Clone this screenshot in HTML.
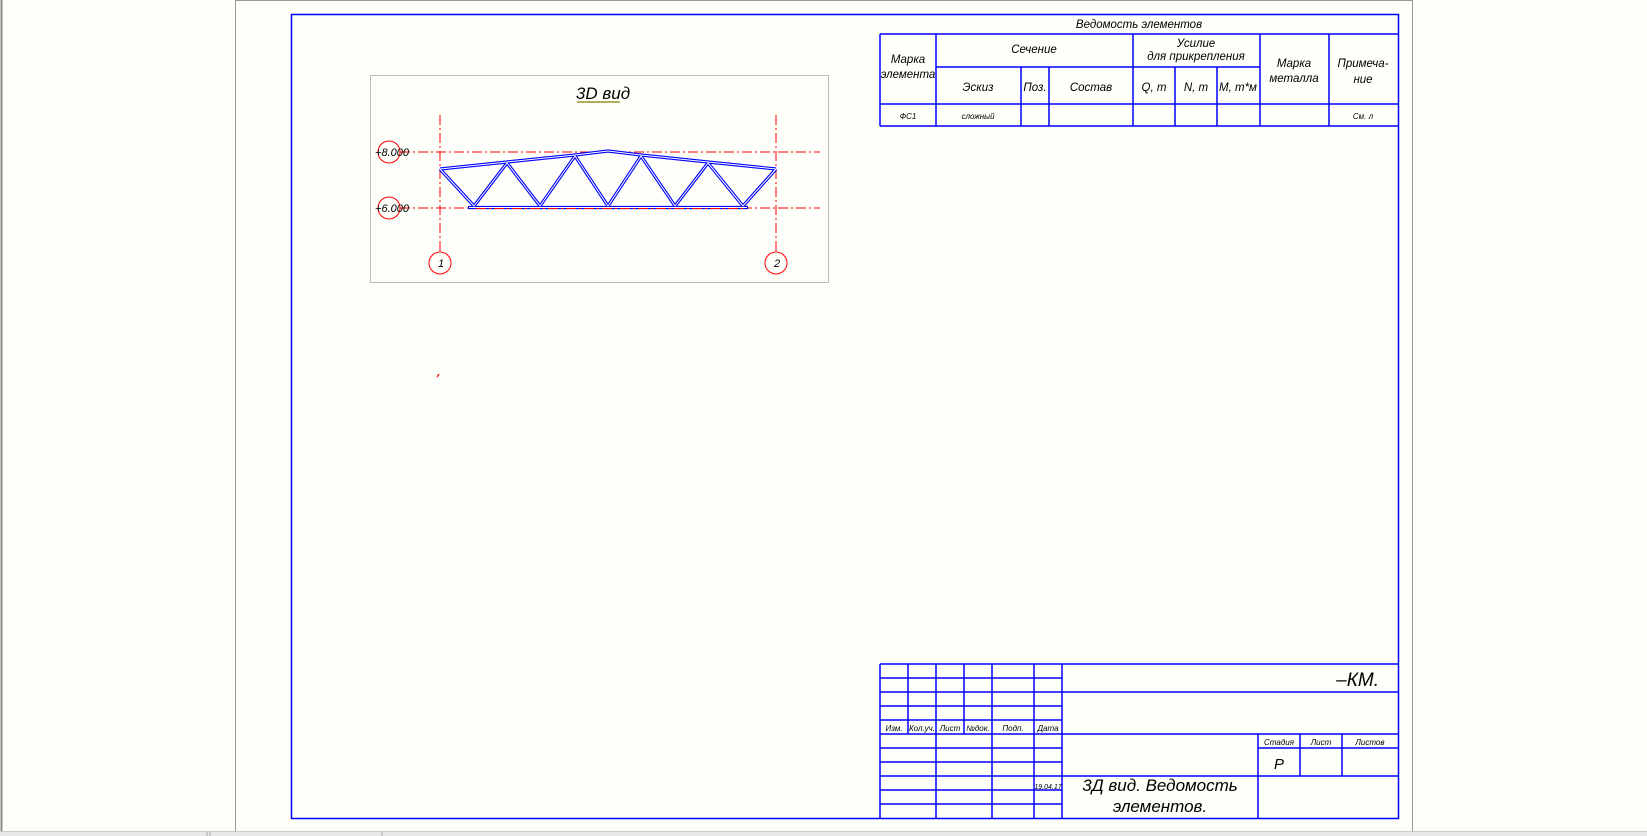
<!DOCTYPE html>
<html><head><meta charset="utf-8"><style>
html,body{margin:0;padding:0;background:#fefffb;width:1647px;height:836px;overflow:hidden}
svg{display:block}
text{font-family:"Liberation Sans","DejaVu Sans",sans-serif;font-style:italic;fill:#000}
</style></head><body>
<svg width="1647" height="836" viewBox="0 0 1647 836" xmlns="http://www.w3.org/2000/svg">
<rect width="1647" height="836" fill="#fefffb"/>
<line x1="1.5" y1="0" x2="1.5" y2="832" stroke="#888" stroke-width="2"/>
<line x1="235.5" y1="0" x2="235.5" y2="832" stroke="#999" stroke-width="1"/>
<line x1="235" y1="0.5" x2="1412" y2="0.5" stroke="#999" stroke-width="1"/>
<line x1="1412.5" y1="0" x2="1412.5" y2="832" stroke="#999" stroke-width="1"/>
<rect x="0" y="831" width="1647" height="5" fill="#e8e8e8"/>
<line x1="0" y1="831.5" x2="1647" y2="831.5" stroke="#ccc"/>
<line x1="207" y1="832" x2="207" y2="836" stroke="#aaa"/>
<line x1="210" y1="832" x2="210" y2="836" stroke="#aaa"/>
<line x1="382" y1="832" x2="382" y2="836" stroke="#aaa"/>

<g stroke="#0000ff" stroke-width="1.5" fill="none">
<rect x="291.5" y="14.5" width="1107" height="804"/>
<line x1="880" y1="34" x2="1398" y2="34"/>
<line x1="880" y1="34" x2="880" y2="126"/>
<line x1="880" y1="126" x2="1398" y2="126"/>
<line x1="936" y1="67" x2="1260" y2="67"/>
<line x1="880" y1="104" x2="1398" y2="104"/>
<line x1="936" y1="34" x2="936" y2="126"/>
<line x1="1021" y1="67" x2="1021" y2="126"/>
<line x1="1049" y1="67" x2="1049" y2="126"/>
<line x1="1133" y1="34" x2="1133" y2="126"/>
<line x1="1175" y1="67" x2="1175" y2="126"/>
<line x1="1217" y1="67" x2="1217" y2="126"/>
<line x1="1260" y1="34" x2="1260" y2="126"/>
<line x1="1329" y1="34" x2="1329" y2="126"/>
<line x1="880" y1="664" x2="1398" y2="664"/>
<line x1="880" y1="664" x2="880" y2="818"/>
<line x1="880" y1="678" x2="1062" y2="678"/>
<line x1="880" y1="692" x2="1398" y2="692"/>
<line x1="880" y1="706" x2="1062" y2="706"/>
<line x1="880" y1="720" x2="1062" y2="720"/>
<line x1="880" y1="734" x2="1398" y2="734"/>
<line x1="880" y1="748" x2="1062" y2="748"/>
<line x1="880" y1="762" x2="1062" y2="762"/>
<line x1="880" y1="776" x2="1398" y2="776"/>
<line x1="880" y1="790" x2="1062" y2="790"/>
<line x1="880" y1="804" x2="1062" y2="804"/>
<line x1="908" y1="664" x2="908" y2="734"/>
<line x1="936" y1="664" x2="936" y2="818"/>
<line x1="964" y1="664" x2="964" y2="734"/>
<line x1="992" y1="664" x2="992" y2="818"/>
<line x1="1034" y1="664" x2="1034" y2="818"/>
<line x1="1062" y1="664" x2="1062" y2="818"/>
<line x1="1258" y1="734" x2="1258" y2="818"/>
<line x1="1300" y1="734" x2="1300" y2="776"/>
<line x1="1342" y1="734" x2="1342" y2="776"/>
<line x1="1258" y1="748" x2="1398" y2="748"/>
</g>

<g font-size="11.5" text-anchor="middle">
<text x="1139" y="28">Ведомость элементов</text>
<text x="908" y="63">Марка</text>
<text x="908" y="78">элемента</text>
<text x="1034" y="53">Сечение</text>
<text x="1196" y="47">Усилие</text>
<text x="1196" y="60">для прикрепления</text>
<text x="978" y="91">Эскиз</text>
<text x="1035" y="91">Поз.</text>
<text x="1091" y="91">Состав</text>
<text x="1154" y="91">Q, т</text>
<text x="1196" y="91">N, т</text>
<text x="1238" y="91">M, т*м</text>
<text x="1294" y="67">Марка</text>
<text x="1294" y="82">металла</text>
<text x="1363" y="67">Примеча-</text>
<text x="1363" y="83">ние</text>
<text x="908" y="119" font-size="8">ФС1</text>
<text x="978" y="119" font-size="8">сложный</text>
<text x="1363" y="119" font-size="8">См. л</text>
</g>
<g font-size="8" text-anchor="middle">
<text x="894" y="731">Изм.</text>
<text x="922" y="731">Кол.уч.</text>
<text x="950" y="731">Лист</text>
<text x="978" y="731">№док.</text>
<text x="1013" y="731">Подп.</text>
<text x="1048" y="731">Дата</text>
<text x="1048" y="789" font-size="7">19.04.17</text>
<text x="1279" y="745">Стадия</text>
<text x="1321" y="745">Лист</text>
<text x="1370" y="745">Листов</text>
</g>
<text x="1379" y="686" font-size="19" text-anchor="end">–КМ.</text>
<text x="1279" y="769" font-size="15" text-anchor="middle">Р</text>
<text x="1160" y="791" font-size="17" text-anchor="middle">3Д вид. Ведомость</text>
<text x="1160" y="812" font-size="17" text-anchor="middle">элементов.</text>

<rect x="370.5" y="75.5" width="458" height="207" fill="none" stroke="#bbb" stroke-width="1"/>
<text x="603" y="99" font-size="17" text-anchor="middle">3D вид</text>
<line x1="577" y1="102" x2="620" y2="102" stroke="#808000" stroke-width="1.2"/>

<g stroke="#ff0000" stroke-width="1" fill="none">
<line x1="400" y1="152" x2="820" y2="152" stroke-dasharray="10,3,2,3"/>
<line x1="400" y1="208" x2="820" y2="208" stroke-dasharray="10,3,2,3"/>
<line x1="440" y1="115" x2="440" y2="252" stroke-dasharray="10,3,2,3"/>
<line x1="776" y1="115" x2="776" y2="252" stroke-dasharray="10,3,2,3"/>
<circle cx="440" cy="263" r="11"/>
<circle cx="776" cy="263" r="11"/>
<circle cx="389" cy="152" r="11"/>
<circle cx="389" cy="208" r="11"/>
<line x1="437" y1="377" x2="439" y2="374" stroke-width="1.2"/>
</g>
<g fill="#ff0000" font-size="11" text-anchor="middle">
<text x="392" y="156">+8.000</text>
<text x="392" y="212">+6.000</text>
<text x="441" y="267">1</text>
<text x="777" y="267">2</text>
</g>

<g stroke="#0000ff" stroke-width="3.2" fill="none" stroke-linejoin="round">
<polyline points="440,169 507,162 575,155 608,151 641,155 708,162 776,169"/>
<line x1="468" y1="207.5" x2="748" y2="207.5"/>
<polyline points="440,169 474,206 507,163 540,206 575,156 608,206 641,156 675,206 708,163 743,206 776,169"/>
</g>
<g stroke="#fefffb" stroke-width="1" fill="none" stroke-linejoin="round">
<polyline points="440,169 507,162 575,155 608,151 641,155 708,162 776,169"/>
<line x1="469" y1="207.5" x2="747" y2="207.5"/>
<polyline points="440,169 474,206 507,163 540,206 575,156 608,206 641,156 675,206 708,163 743,206 776,169"/>
</g>
<line x1="476" y1="208.5" x2="745" y2="208.5" stroke="#ff0000" stroke-width="1" stroke-dasharray="10,3,2,3"/>
</svg>
</body></html>
